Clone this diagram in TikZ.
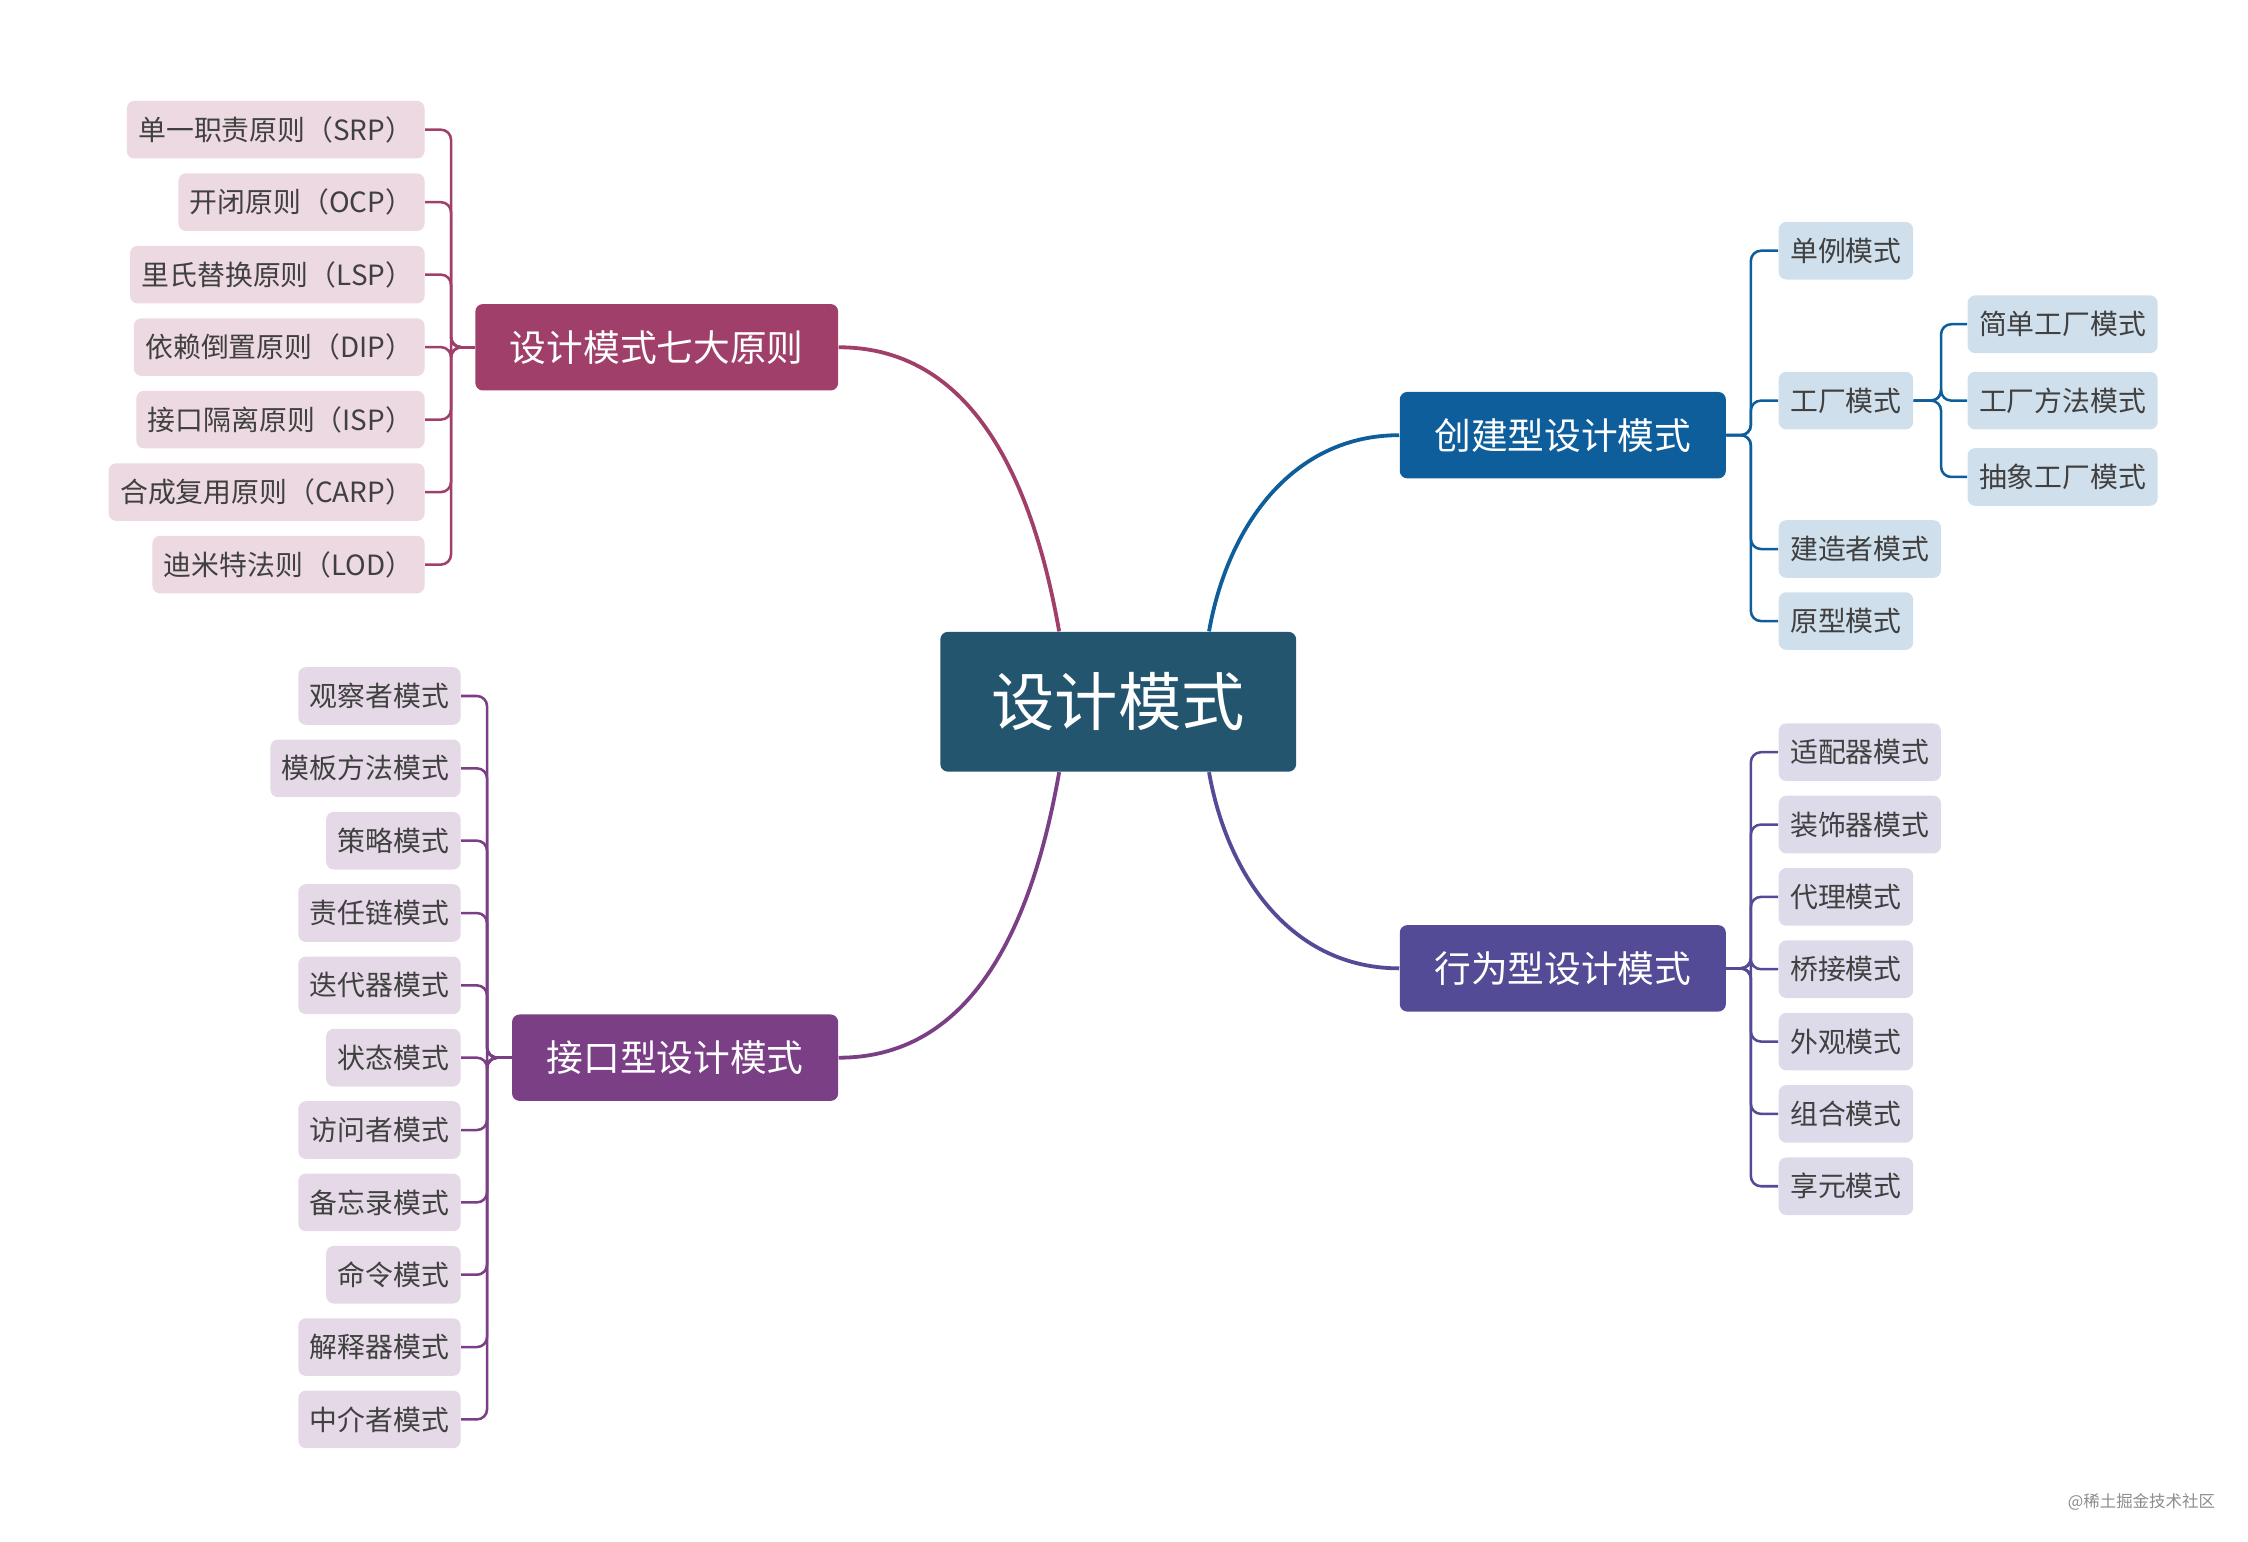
\documentclass[tikz,border=0pt]{standalone}
\usepackage{fontspec}
\setmainfont{Noto Sans CJK SC}
\usetikzlibrary{positioning,calc}
\definecolor{rootc}{HTML}{23556F}
\definecolor{princ}{HTML}{A0406A}
\definecolor{intfc}{HTML}{7B3F85}
\definecolor{creac}{HTML}{0F5E9C}
\definecolor{behac}{HTML}{534B95}
\begin{document}
\begin{tikzpicture}[x=0.02cm,y=-0.02cm,
    root/.style={fill=rootc,text=white,rounded corners=3pt,minimum width=4.94cm,minimum height=1.94cm,font=\fontsize{25}{28}\selectfont},
    branch/.style={fill=#1,text=white,rounded corners=3pt,minimum height=1.2cm,inner xsep=0.48cm,font=\fontsize{14.5}{17}\selectfont},
    leaf/.style={fill=#1,text=black!75,rounded corners=3pt,minimum height=0.8cm,inner xsep=0.16cm,font=\fontsize{11}{13}\selectfont},
    link/.style={draw=#1,line width=1.5pt},
    brk/.style={draw=#1,line width=1pt,rounded corners=4pt},
  ]
  \useasboundingbox (0,0) rectangle (1560,1070);
  % root and branches
  \node[root] (root) at (776,487) {设计模式};
  \node[branch=princ,anchor=east] (prin) at (582,241) {设计模式七大原则};
  \node[branch=intfc,anchor=east] (intf) at (582,734) {接口型设计模式};
  \node[branch=creac,anchor=west] (crea) at (971,302) {创建型设计模式};
  \node[branch=behac,anchor=west] (beha) at (971,672) {行为型设计模式};
%
  \draw[link=princ] ($(root.north)+(-41,0)$) to[out=100,in=0] (prin.east);
  \draw[link=intfc] ($(root.south)+(-41,0)$) to[out=-100,in=0] (intf.east);
  \draw[link=creac] ($(root.north)+(63,0)$) to[out=80,in=180] (crea.west);
  \draw[link=behac] ($(root.south)+(63,0)$) to[out=-80,in=180] (beha.west);
  % principles
  \coordinate (pb) at (313,241);
  \foreach \t [count=\i] in {单一职责原则（SRP）,开闭原则（OCP）,里氏替换原则（LSP）,依赖倒置原则（DIP）,接口隔离原则（ISP）,合成复用原则（CARP）,迪米特法则（LOD）}{
    \node[leaf=princ!20,anchor=east] (p\i) at (295,{90+50.3*(\i-1)}) {\t};
    \draw[brk=princ] (prin.west) -- (pb) |- (p\i.east);
  }
  % interface
  \coordinate (ib) at (338,734);
  \foreach \t [count=\i] in {观察者模式,模板方法模式,策略模式,责任链模式,迭代器模式,状态模式,访问者模式,备忘录模式,命令模式,解释器模式,中介者模式}{
    \node[leaf=intfc!20,anchor=east] (i\i) at (320,{483+50.2*(\i-1)}) {\t};
    \draw[brk=intfc] (intf.west) -- (ib) |- (i\i.east);
  }
  % creational
  \coordinate (cb) at (1215,302);
  \node[leaf=creac!20,anchor=west] (c1) at (1234,174) {单例模式};
  \node[leaf=creac!20,anchor=west] (c2) at (1234,278) {工厂模式};
  \node[leaf=creac!20,anchor=west] (c3) at (1234,381) {建造者模式};
  \node[leaf=creac!20,anchor=west] (c4) at (1234,431) {原型模式};
  \foreach \i in {1,...,4}
    \draw[brk=creac] (crea.east) -- (cb) |- (c\i.west);
  \coordinate (fb) at (1347,278);
  \node[leaf=creac!20,anchor=west] (f1) at (1365,225) {简单工厂模式};
  \node[leaf=creac!20,anchor=west] (f2) at (1365,278) {工厂方法模式};
  \node[leaf=creac!20,anchor=west] (f3) at (1365,331) {抽象工厂模式};
  \foreach \i in {1,2,3}
    \draw[brk=creac] (c2.east) -- (fb) |- (f\i.west);
  % behavioral
  \coordinate (bb) at (1215,672);
  \foreach \t [count=\i] in {适配器模式,装饰器模式,代理模式,桥接模式,外观模式,组合模式,享元模式}{
    \node[leaf=behac!20,anchor=west] (b\i) at (1234,{522+50.2*(\i-1)}) {\t};
    \draw[brk=behac] (beha.east) -- (bb) |- (b\i.west);
  }
  \node[text=black!45,font=\fontsize{6.5}{8}\selectfont] (wm) at (1486,1042) {@稀土掘金技术社区};
\end{tikzpicture}
\end{document}
